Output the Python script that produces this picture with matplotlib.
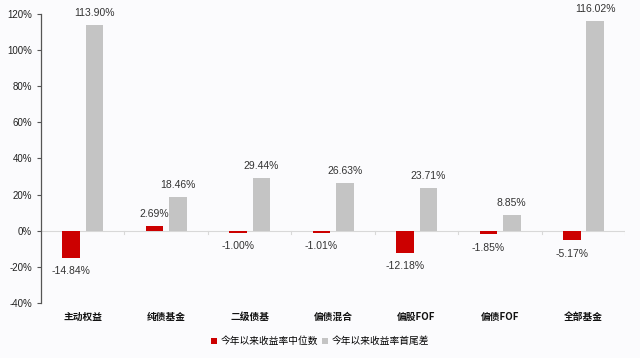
import numpy as np
import matplotlib.pyplot as plt
from matplotlib.ticker import FuncFormatter

plt.rcParams['font.family'] = ['Liberation Sans', 'Noto Sans CJK SC', 'DejaVu Sans']

categories = ['主动权益', '纯债基金', '二级债基', '偏债混合', '偏股FOF', '偏债FOF', '全部基金']
median_ret = [-14.84, 2.69, -1.00, -1.01, -12.18, -1.85, -5.17]
spread_ret = [113.90, 18.46, 29.44, 26.63, 23.71, 8.85, 116.02]
legend_labels = ['今年以来收益率中位数', '今年以来收益率首尾差']

RED = '#cc0000'
GRAY = '#c4c4c4'
BG = '#fbfbfd'
CJK = ['Noto Sans CJK SC', 'DejaVu Sans']

fig = plt.figure(figsize=(6.4, 3.58), dpi=100, facecolor=BG)
ax = fig.add_axes([0.064, 0.153, 0.913, 0.809], facecolor=BG)

x = np.arange(len(categories))
w = 0.21
off = 0.14
b1 = ax.bar(x - off, median_ret, w, color=RED, label=legend_labels[0])
b2 = ax.bar(x + off, spread_ret, w, color=GRAY, label=legend_labels[1])

for xi, v in zip(x - off, median_ret):
    va = 'bottom' if v >= 0 else 'top'
    dy = 5 if v >= 0 else -6
    ax.annotate(f'{v:.2f}%', (xi, v), xytext=(0, dy), textcoords='offset points',
                ha='center', va=va, fontsize=7.5, color='#333333')
for xi, v in zip(x + off, spread_ret):
    ax.annotate(f'{v:.2f}%', (xi, v), xytext=(0, 5), textcoords='offset points',
                ha='center', va='bottom', fontsize=7.5, color='#333333')

ax.set_xlim(-0.5, len(categories) - 0.5)
ax.set_ylim(-40, 120)
ax.set_yticks(np.arange(-40, 121, 20))
ax.yaxis.set_major_formatter(FuncFormatter(lambda v, p: f'{v:.0f}%'))
ax.tick_params(axis='y', labelsize=7, length=3, color='#555555', labelcolor='#222222')

# x axis drawn as a light line at zero with ticks at category boundaries
ax.set_xticks([])
ax.axhline(0, color='#d8d8d8', lw=0.8, zorder=0)
for b in np.arange(0.5, len(categories), 1.0):
    ax.plot([b, b], [0, -1.6], color='#d8d8d8', lw=0.8, zorder=0)
for xi, c in zip(x, categories):
    ax.text(xi, -47.5, c, ha='center', va='center', fontsize=7, fontweight='bold',
            color='#111111', family=CJK, clip_on=False)

for s in ['top', 'right', 'bottom']:
    ax.spines[s].set_visible(False)
ax.spines['left'].set_color('#555555')
ax.spines['left'].set_linewidth(0.9)

fig.legend(handles=[b1, b2], loc='center', bbox_to_anchor=(0.5, 0.047), ncol=2,
           frameon=False, prop={'family': CJK, 'size': 7}, handlelength=0.6,
           handleheight=0.6, handletextpad=0.4, columnspacing=0.4)

fig.savefig('out.png', dpi=100, facecolor=BG)
